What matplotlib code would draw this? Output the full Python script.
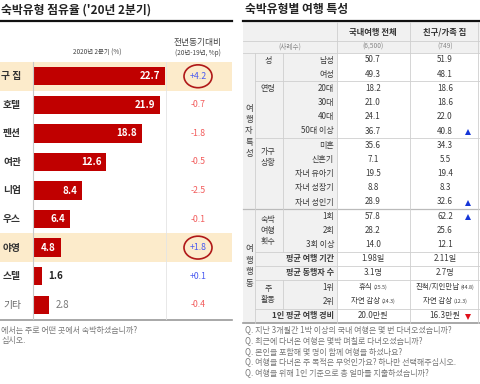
import matplotlib
matplotlib.use('Agg')
import matplotlib.pyplot as plt
import matplotlib.transforms as mtransforms
from matplotlib.patches import Rectangle, Ellipse
from matplotlib.offsetbox import TextArea, HPacker, AnnotationBbox

plt.rcParams['font.family'] = ['Noto Sans CJK KR', 'DejaVu Sans']

# left panel: share by lodging type, 2020 Q2 (%) - labels as visible in the crop
lodging = ['구 집', '호텔', '펜션', '여관', '니엄', '우스', '야영', '스텔', '기타']
share_2020q2 = [22.7, 21.9, 18.8, 12.6, 8.4, 6.4, 4.8, 1.6, 2.8]
yoy_change = [4.2, -0.7, -1.8, -0.5, -2.5, -0.1, 1.8, 0.1, -0.4]
highlight_rows = [0, 6]

# right panel: traveller profile table
tab_rows = ['남성', '여성', '20대', '30대', '40대', '50대 이상', '미혼', '신혼기',
            '자녀 유아기', '자녀 성장기', '자녀 성인기', '1회', '2회', '3회 이상',
            '평균 여행 기간', '평균 동행자 수', '1위', '2위', '1인 평균 여행 경비']
tab_total = ['50.7', '49.3', '18.2', '21.0', '24.1', '36.7', '35.6', '7.1', '19.5',
             '8.8', '28.9', '57.8', '28.2', '14.0', '1.98일', '3.1명',
             '휴식 (25.5)', '자연 감상 (24.3)', '20.0만원']
tab_family = ['51.9', '48.1', '18.6', '18.6', '22.0', '40.8', '34.3', '5.5', '19.4',
              '8.3', '32.6', '62.2', '25.6', '12.1', '2.11일', '2.7명',
              '친척/지인만남 (44.8)', '자연 감상 (12.3)', '16.3만원']
tab_cols = ['국내여행 전체', '친구/가족 집']
tab_n = ['(6,500)', '(749)']
sub_groups = [('성', 0, 0), ('연령', 2, 2), ('가구\n상황', 6, 6.85),
              ('숙박\n여행\n횟수', 11, 12), ('주\n활동', 16, 16.45)]
bold_rows = [14, 15, 18]
up_rows = [5, 10, 11]
down_rows = [18]
questions = ['Q. 지난 3개월간 1박 이상의 국내 여행은 몇 번 다녀오셨습니까?',
             'Q. 최근에 다녀온 여행은 몇박 며칠로 다녀오셨습니까?',
             'Q. 본인을 포함해 몇 명이 함께 여행을 하셨나요?',
             'Q. 여행을 다녀온 주 목적은 무엇인가요? 하나만 선택해주십시오.',
             'Q. 여행을 위해 1인 기준으로 총 얼마를 지출하셨습니까?']

W, H = 480, 384
dark = '#3a3a3a'
fig = plt.figure(figsize=(4.8, 3.84), dpi=100)

# overlay in pixel units for layout
ov = fig.add_axes([0, 0, 1, 1], zorder=0)
ov.set_xlim(0, W)
ov.set_ylim(H, 0)
ov.axis('off')

# ---------------- left panel ----------------
bar_top, bar_bot, bar_l, bar_r = 62, 319, 33, 166
ax = fig.add_axes([bar_l / W, 1 - bar_bot / H, (bar_r - bar_l) / W,
                   (bar_bot - bar_top) / H], zorder=1)
ax.patch.set_alpha(0)
n = len(lodging)
ax.barh(range(n), share_2020q2, height=0.64, color='#c00000')
ax.set_xlim(0, 22.9)
ax.set_ylim(n - 0.5, -0.5)
ax.set_xticks([])
ax.set_yticks([])
for s in ['top', 'bottom']:
    ax.spines[s].set_visible(False)
ax.spines['left'].set_color('#c8c8c8')
ax.spines['left'].set_linewidth(0.8)
ax.spines['right'].set_color('#e4e4e4')
ax.spines['right'].set_linewidth(0.6)

blend = mtransforms.blended_transform_factory(ov.transData, ax.transData)
for i in highlight_rows:
    ov.add_patch(Rectangle((0, i - 0.5), 232, 1, transform=blend,
                           color='#fcebcb', lw=0, zorder=0))

for i, (lab, v, d) in enumerate(zip(lodging, share_2020q2, yoy_change)):
    last = lab == '기타'
    ov.text(21, i, lab, transform=blend, ha='right', va='center', fontsize=7,
            weight='normal' if last else 'bold', color='#666' if last else '#333')
    if v >= 4:
        ax.annotate(f'{v}', (v, i), xytext=(-3.5, 0), textcoords='offset points',
                    ha='right', va='center', color='white', fontsize=7, weight='bold')
    else:
        ax.annotate(f'{v}', (v, i), xytext=(4.5, 0), textcoords='offset points',
                    ha='left', va='center', fontsize=7,
                    color='#777' if last else '#222', weight='normal' if last else 'bold')
    ov.text(198, i, f'{d:+.1f}', transform=blend, ha='center', va='center',
            fontsize=6.3, color='#4a5af0' if d > 0 else '#f25c5c')

for i in highlight_rows:
    ov.add_patch(Ellipse((198, i), 28, 0.8, transform=blend, fill=False,
                         ec='#b01818', lw=1.2, zorder=3))

ov.text(1, 10, "숙박유형 점유율 ('20년 2분기)", ha='left', va='center',
        fontsize=8.5, weight='bold', color='#222')
ov.plot([0, 232], [21, 21], color='#111', lw=1.6)
ov.text(97, 53, '2020년 2분기 (%)', ha='center', va='center', fontsize=4.6, color='#444')
ov.text(198, 42, '전년동기대비', ha='center', va='center', fontsize=6.3, color='#444')
ov.text(198, 53, "(20년-19년, %p)", ha='center', va='center', fontsize=4.6, color='#444')
ov.plot([0, 232], [320, 320], color='#9a9a9a', lw=1.2)
ov.text(1, 330, '에서는 주로 어떤 곳에서 숙박하셨습니까?', ha='left', va='center',
        fontsize=5.8, color='#777')
ov.text(1, 341, '십시오.', ha='left', va='center', fontsize=5.8, color='#777')

# ---------------- right panel ----------------
r0, step = 60, 14.2


def row_y(i):
    return r0 + step * i


tab_top, tab_bot = 22, row_y(len(tab_rows) - 0.5)
grey = '#f1f1f1'
line_c = '#cfcfcf'
ov.add_patch(Rectangle((243, tab_top), 94, tab_bot - tab_top, color=grey, lw=0))
ov.add_patch(Rectangle((337, tab_top), 143, row_y(-0.5) - tab_top, color=grey, lw=0))

ov.text(245, 10, '숙박유형별 여행 특성', ha='left', va='center', fontsize=8.5,
        weight='bold', color='#222')
ov.plot([243, 480], [21, 21], color='#111', lw=1.6)

# horizontal rules
ov.plot([243, 480], [41, 41], color=line_c, lw=0.6)
ov.plot([243, 480], [row_y(-0.5)] * 2, color=line_c, lw=0.6)
for i in [1, 5, 13, 14, 15, 17]:
    ov.plot([255, 480], [row_y(i + 0.5)] * 2, color=line_c, lw=0.6)
ov.plot([243, 480], [row_y(10.5)] * 2, color='#bbbbbb', lw=0.9)
ov.plot([243, 480], [tab_bot] * 2, color='#9a9a9a', lw=1.2)

# vertical rules
for x in [337, 410, 478]:
    ov.plot([x, x], [tab_top, tab_bot], color=line_c, lw=0.6)
ov.plot([255, 255], [row_y(-0.5), tab_bot], color=line_c, lw=0.6)
ov.plot([283, 283], [row_y(-0.5), row_y(13.5)], color=line_c, lw=0.6)
ov.plot([283, 283], [row_y(15.5), row_y(17.5)], color=line_c, lw=0.6)

for x, c, nn in zip([373, 445], tab_cols, tab_n):
    ov.text(x, 32, c, ha='center', va='center', fontsize=6, weight='bold', color='#333')
    ov.text(x, 47, nn, ha='center', va='center', fontsize=4.8, color='#888')
ov.text(290, 47, '(사례수)', ha='center', va='center', fontsize=4.8, color='#888')

ov.text(249, (row_y(-0.5) + row_y(10.5)) / 2, '여\n행\n자\n특\n성', ha='center',
        va='center', fontsize=6, linespacing=1.35, color=dark)
ov.text(249, (row_y(10.5) + tab_bot) / 2, '여\n행\n행\n동', ha='center',
        va='center', fontsize=6, linespacing=1.35, color=dark)
for lab, i, yc in sub_groups:
    ov.text(268, row_y(yc), lab, ha='center', va='center', fontsize=5.8,
            linespacing=1.3, color=dark)


def cell(x, y, val):
    if '(' in val:
        main, paren = val.split(' (')
        box = HPacker(children=[TextArea(main, textprops=dict(fontsize=5.4, color=dark)),
                                TextArea('(' + paren, textprops=dict(fontsize=3.8, color=dark))],
                      align='baseline', pad=0, sep=1)
        ov.add_artist(AnnotationBbox(box, (x, y), frameon=False, pad=0,
                                     box_alignment=(0.5, 0.5), annotation_clip=False))
    else:
        ov.text(x, y, val, ha='center', va='center', fontsize=5.8, color=dark)


for i, lab in enumerate(tab_rows):
    y = row_y(i)
    ov.text(334, y, lab, ha='right', va='center', fontsize=5.8,
            weight='bold' if i in bold_rows else 'normal', color=dark)
    cell(373, y, tab_total[i])
    cell(445, y, tab_family[i])
    if i in up_rows:
        ov.plot(468, y + 1, marker='^', color='#1536d8', ms=3.8, mew=0)
    if i in down_rows:
        ov.plot(468, y + 1, marker='v', color='#e0101a', ms=3.8, mew=0)

for k, q in enumerate(questions):
    ov.text(245, 330 + 10.6 * k, q, ha='left', va='center', fontsize=5.8, color='#777')

fig.savefig('out.png', dpi=100)
